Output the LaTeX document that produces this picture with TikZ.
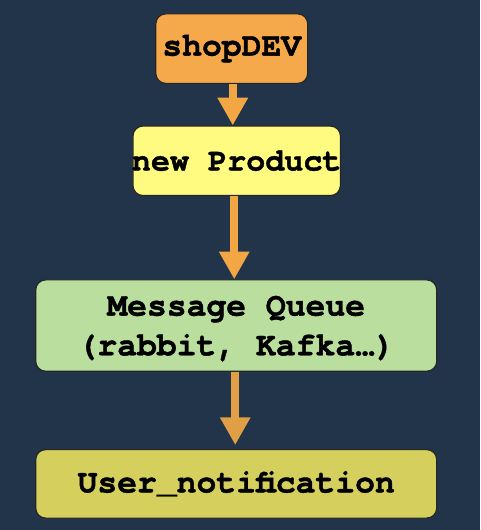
\documentclass[tikz,border=0pt]{standalone}
\usepackage{fontspec}
\setmonofont{texgyrecursor}[Extension=.otf, UprightFont=*-regular, BoldFont=*-bold, BoldFeatures={FakeBold=1.2}]
\usetikzlibrary{arrows.meta}
\newlength{\du}
\setlength{\du}{1pt}
\definecolor{bgcolor}{HTML}{21344A}
\definecolor{shopcolor}{HTML}{F5A94B}
\definecolor{productcolor}{HTML}{FFFB80}
\definecolor{queuecolor}{HTML}{B9DE9E}
\definecolor{notifycolor}{HTML}{D5D05E}
\definecolor{arrowcolor}{HTML}{F2A744}
\definecolor{darkarrowcolor}{HTML}{E09E45}
\tikzset{
  flowbox/.style={draw=black!85, line width=1.2\du, rounded corners=10\du,
    align=center, inner sep=0pt,
    font=\ttfamily\bfseries\fontsize{33.3}{40}\selectfont},
  flowarrow/.style={draw=arrowcolor, line width=8pt,
    -{Triangle[width=29pt,length=28pt]}}
}

\begin{document}
\begin{tikzpicture}
\pgftransformxscale{1.000000}
\pgftransformyscale{-1.000000}
% background
\fill[bgcolor] (-2\du,-2\du) rectangle (482\du,532\du);
\useasboundingbox (0\du,0\du) rectangle (480\du,530\du);
% boxes
\node[flowbox, fill=shopcolor, minimum width=153\du, minimum height=70\du] (shop) at (231.5\du,47\du){shopDEV};
\node[flowbox, fill=productcolor, minimum width=209\du, minimum height=70\du, font=\ttfamily\bfseries\fontsize{32}{40}\selectfont] (product) at (236.5\du,160\du){\makebox[190\du]{new Product}};
\node[flowbox, fill=queuecolor, minimum width=404\du, minimum height=92\du, text depth=-6\du] (queue) at (236\du,326\du){Message Queue\\(rabbit, Kafka…)};
\node[flowbox, fill=notifycolor, minimum width=404\du, minimum height=69\du] (notify) at (236\du,485.5\du){User\_notification};
% arrows
\draw[flowarrow] ([xshift=1pt]shop.south) -- ([xshift=1pt]shop.south |- product.north);
\draw[flowarrow] ([xshift=-2.5pt]product.south) -- ([xshift=-2.5pt]product.south |- queue.north);
\draw[flowarrow, draw=darkarrowcolor, shorten >=4pt] ([xshift=-1pt]queue.south) -- ([xshift=-1pt]queue.south |- notify.north);
\end{tikzpicture}
\end{document}
